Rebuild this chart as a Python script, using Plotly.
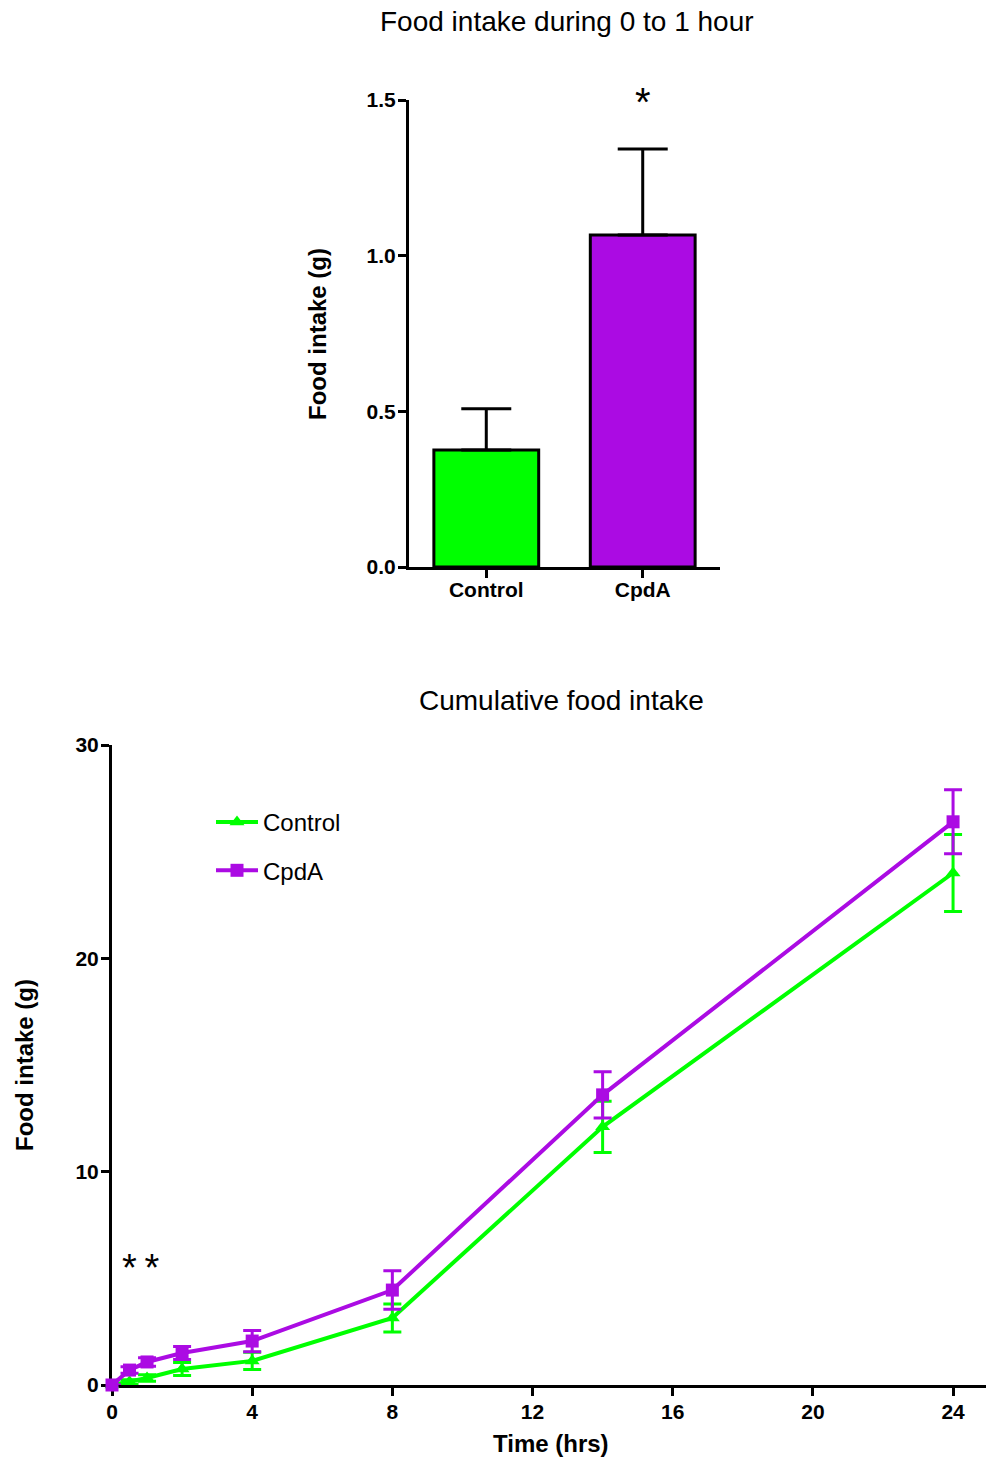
import plotly.graph_objects as go

# ---- data ----
bar_groups = ["Control", "CpdA"]
bar_means = [0.376, 1.066]
bar_sem = [0.132, 0.277]

hours = [0, 0.5, 1, 2, 4, 8, 14, 24]
control_mean = [0, 0.15, 0.33, 0.75, 1.13, 3.14, 12.1, 24.0]
control_sem = [0, 0.1, 0.15, 0.3, 0.4, 0.66, 1.2, 1.8]
cpda_mean = [0, 0.7, 1.08, 1.5, 2.06, 4.45, 13.6, 26.4]
cpda_sem = [0, 0.15, 0.2, 0.3, 0.5, 0.9, 1.08, 1.5]

GREEN = "#00FF00"
PURPLE = "#AB0BE3"
FONT = "Arial, Liberation Sans, sans-serif"

W, H = 986, 1458


def px_x(p):
    return p / W


def px_y(p):
    return 1 - p / H


fig = go.Figure()

# ---- top: bar chart ----
fig.add_trace(go.Bar(
    x=[0, 1], y=bar_means,
    marker=dict(color=[GREEN, PURPLE], line=dict(color="black", width=3)),
    width=0.67,
    error_y=dict(type="data", symmetric=False, array=bar_sem, arrayminus=[0, 0],
                 color="black", thickness=3, width=25),
    xaxis="x", yaxis="y", showlegend=False,
))

# ---- bottom: cumulative intake ----
fig.add_trace(go.Scatter(
    x=hours, y=control_mean, name="Control", mode="lines+markers",
    line=dict(color=GREEN, width=4),
    marker=dict(symbol="triangle-up", size=13, color=GREEN),
    error_y=dict(type="data", array=control_sem, color=GREEN, thickness=3, width=9),
    xaxis="x2", yaxis="y2", cliponaxis=False, legendgroup="a",
))
fig.add_trace(go.Scatter(
    x=hours, y=cpda_mean, name="CpdA", mode="lines+markers",
    line=dict(color=PURPLE, width=4),
    marker=dict(symbol="square", size=13, color=PURPLE),
    error_y=dict(type="data", array=cpda_sem, color=PURPLE, thickness=3, width=9),
    xaxis="x2", yaxis="y2", cliponaxis=False, legendgroup="b",
))

axis_common = dict(
    showgrid=False, zeroline=False, showline=True, linecolor="black", linewidth=3,
    ticks="outside", tickcolor="black", tickwidth=3, ticklen=8, automargin=False,
    tickfont=dict(family=FONT, size=21, color="black", weight="bold"),
)

fig.update_layout(
    width=W, height=H,
    margin=dict(l=0, r=0, t=0, b=0, autoexpand=False),
    paper_bgcolor="white", plot_bgcolor="white",
    font=dict(family=FONT, color="black"),
    xaxis=dict(
        **axis_common, domain=[px_x(409), px_x(720)], anchor="y",
        range=[-0.494, 1.494], tickvals=[0, 1], ticktext=bar_groups,
        layer="above traces", ticklabelstandoff=-6,
    ),
    yaxis=dict(
        **axis_common, domain=[px_y(567), px_y(100)], anchor="x",
        range=[0, 1.5], tickvals=[0, 0.5, 1.0, 1.5], tickformat=".1f",
        ticklabelstandoff=-2,
    ),
    xaxis2=dict(
        **axis_common, domain=[px_x(112), 1.0], anchor="y2",
        range=[0, 24.94], tickvals=[0, 4, 8, 12, 16, 20, 24],
        layer="below traces", ticklabelstandoff=-2,
    ),
    yaxis2=dict(
        **axis_common, domain=[px_y(1385), px_y(745)], anchor="x2",
        range=[0, 30], tickvals=[0, 10, 20, 30],
        layer="below traces", ticklabelstandoff=-2,
    ),
    bargap=0.33,
    legend=dict(
        x=px_x(211), y=px_y(800), xanchor="left", yanchor="top",
        font=dict(family=FONT, size=24, color="black"),
        bgcolor="rgba(0,0,0,0)", tracegroupgap=14, traceorder="grouped",
        itemwidth=42,
    ),
    showlegend=True,
)


def paper_text(text, x, y, size, bold=False, angle=0):
    fig.add_annotation(
        text=f"<b>{text}</b>" if bold else text, xref="paper", yref="paper",
        x=px_x(x), y=px_y(y), xanchor="center", yanchor="middle",
        showarrow=False, textangle=angle,
        font=dict(family=FONT, size=size, color="black"),
    )


# chart titles
paper_text("Food intake during 0 to 1 hour", 567, 22, 28)
paper_text("Cumulative food intake", 561, 701, 28)
# axis titles
paper_text("Food intake (g)", 317, 334, 24, bold=True, angle=-90)
paper_text("Food intake (g)", 24, 1065, 24, bold=True, angle=-90)
paper_text("Time (hrs)", 551, 1443, 24, bold=True)

# significance marks
fig.add_annotation(text="*", xref="x", yref="y", x=1, y=1.5, yanchor="middle",
                   yshift=-2, showarrow=False, font=dict(family=FONT, size=40, color="black"))
fig.add_annotation(text="*\u2009*", xref="x2", yref="y2", x=0.8, y=5.6, yanchor="middle",
                   yshift=-2, showarrow=False, font=dict(family=FONT, size=38, color="black"))

fig.write_html("out.html")
